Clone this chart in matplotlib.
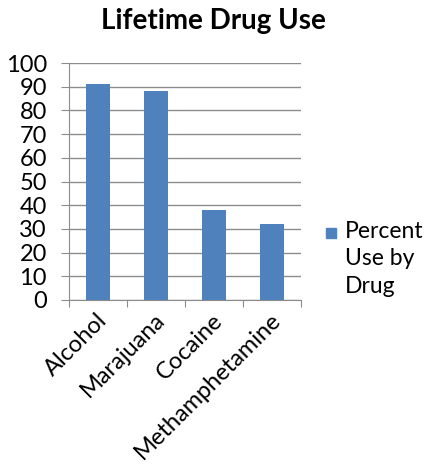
import matplotlib as mpl
mpl.use('Agg')
import matplotlib.pyplot as plt
from matplotlib.patches import Rectangle

drugs = ['Alcohol', 'Marajuana', 'Cocaine', 'Methamphetamine']
percent_use = [91, 88, 38, 32]
yticks = list(range(0, 101, 10))
series_name = 'Percent\nUse by\nDrug'

W, H = 426, 472
bar_color = '#4F81BD'
plt.rcParams['font.family'] = ['Lato', 'DejaVu Sans']

fig = plt.figure(figsize=(W / 100, H / 100), dpi=100)
# plot area in pixels: left 69, right 301, top 63, bottom 300
ax = fig.add_axes([69 / W, 1 - 300 / H, (301 - 69) / W, (300 - 63) / H])

x = range(len(drugs))
ax.bar(x, percent_use, width=0.4, color=bar_color, zorder=3)

ax.set_xlim(-0.5, len(drugs) - 0.5)
ax.set_ylim(0, 100)
ax.set_yticks(yticks)
ax.set_yticklabels([str(v) for v in yticks], fontsize=17)
ax.yaxis.grid(True, color='#8c8c8c', linewidth=1, zorder=0)

ax.set_xticks([i - 0.5 for i in range(len(drugs) + 1)])
ax.set_xticklabels([])
ax.tick_params(axis='x', direction='out', length=5, color='#8c8c8c')
ax.tick_params(axis='y', direction='out', length=6, color='#8c8c8c', pad=10)

for side in ['top', 'right']:
    ax.spines[side].set_visible(False)
for side in ['left', 'bottom']:
    ax.spines[side].set_color('#8c8c8c')

for i, name in enumerate(drugs):
    ax.text(i - 0.03, -4, name, rotation=45, ha='right', va='top',
            rotation_mode='anchor', fontsize=17,
            transform=ax.transData, clip_on=False)

fig.text(213 / W, 1 - 21 / H, 'Lifetime Drug Use', ha='center', va='center',
         fontsize=20, fontweight='bold')

# legend, drawn by hand so the key sits next to the first line
fig.patches.append(Rectangle((326 / W, 1 - 238 / H), 10 / W, 10 / H,
                             transform=fig.transFigure, color=bar_color))
fig.text(345 / W, 1 - 221 / H, series_name, ha='left', va='top',
         fontsize=16.5, linespacing=1.38)

fig.savefig('out.png', dpi=100)
